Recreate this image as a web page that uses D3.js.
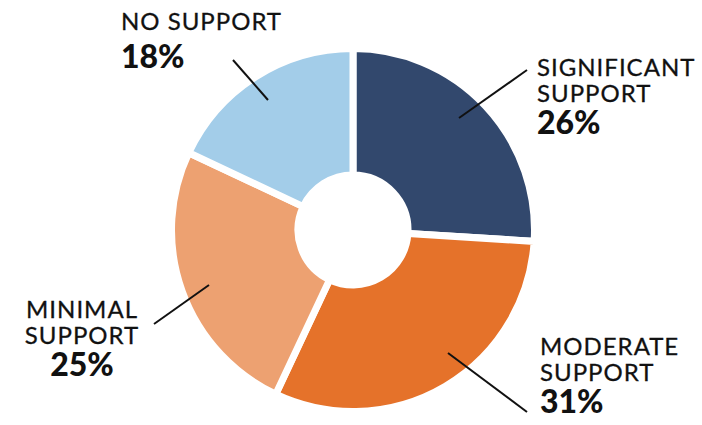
<!DOCTYPE html>
<html>
<head>
<meta charset="utf-8">
<script src="https://cdn.jsdelivr.net/npm/d3@7"></script>
<style>
  html, body { margin: 0; padding: 0; background: #fff; }
  svg { display: block; }
  .lbl { font-family: Lato, "Open Sans", sans-serif; fill: #111; }
  .name { font-size: 24px; font-weight: 400; letter-spacing: 1px; stroke: #111; stroke-width: 0.3px; }
  .pct { font-size: 32px; font-weight: 900; }
</style>
</head>
<body>
<svg id="chart" width="702" height="425"></svg>
<script>
// Share of respondents by level of support
const categories = ["SIGNIFICANT SUPPORT", "MODERATE SUPPORT", "MINIMAL SUPPORT", "NO SUPPORT"];
const values = [26, 31, 25, 18];

const colors = ["#32486d", "#e5722a", "#eda171", "#a3cde9"];

// Label placement: text anchor, alignment, and leader line endpoints (relative to centre)
const labelLayout = [
  { x: 184, y: -154, anchor: "start", lineFrom: [106, -112], lineTo: [174, -160] },
  { x: 187, y: 125, anchor: "start", lineFrom: [95, 123], lineTo: [174, 182] },
  { x: -271, y: 88, anchor: "middle", lineFrom: [-144, 55], lineTo: [-199, 94] },
  { x: -232, y: -200, anchor: "start", lineFrom: [-85, -130], lineTo: [-120, -170], singleLine: true }
];

const width = 702, height = 425;
const cx = 353, cy = 230;
const outerR = 181.5, innerR = 55;

const svg = d3.select("#chart");
const g = svg.append("g").attr("transform", `translate(${cx},${cy})`);

const pie = d3.pie().sort(null).value(d => d.value).startAngle(0).endAngle(2 * Math.PI);
const arc = d3.arc().innerRadius(innerR).outerRadius(outerR);

const data = categories.map((c, i) => ({ name: c, value: values[i], color: colors[i], layout: labelLayout[i] }));
const arcs = pie(data);

g.selectAll("path.slice")
  .data(arcs)
  .join("path")
  .attr("class", "slice")
  .attr("d", arc)
  .attr("fill", d => d.data.color)
  .attr("stroke", "#fff")
  .attr("stroke-width", 7)
  .attr("stroke-linejoin", "miter");

// Leader lines
g.selectAll("line.leader")
  .data(arcs)
  .join("line")
  .attr("class", "leader")
  .attr("x1", d => d.data.layout.lineFrom[0])
  .attr("y1", d => d.data.layout.lineFrom[1])
  .attr("x2", d => d.data.layout.lineTo[0])
  .attr("y2", d => d.data.layout.lineTo[1])
  .attr("stroke", "#111")
  .attr("stroke-width", 2);

// Labels: category name (one or two lines) with the share below in bold
arcs.forEach(d => {
  const L = d.data.layout;
  const t = g.append("text")
    .attr("class", "lbl")
    .attr("text-anchor", L.anchor)
    .attr("x", L.x)
    .attr("y", L.y);
  const words = d.data.name.split(" ");
  if (L.singleLine) {
    t.append("tspan").attr("class", "name").attr("x", L.x).attr("dy", 0).text(d.data.name);
    t.append("tspan").attr("class", "pct").attr("x", L.x).attr("dy", 38).text(d.data.value + "%");
  } else {
    t.append("tspan").attr("class", "name").attr("x", L.x).attr("dy", 0).text(words[0]);
    t.append("tspan").attr("class", "name").attr("x", L.x).attr("dy", 26).text(words.slice(1).join(" "));
    t.append("tspan").attr("class", "pct").attr("x", L.x).attr("dy", 32).text(d.data.value + "%");
  }
});
</script>
</body>
</html>
